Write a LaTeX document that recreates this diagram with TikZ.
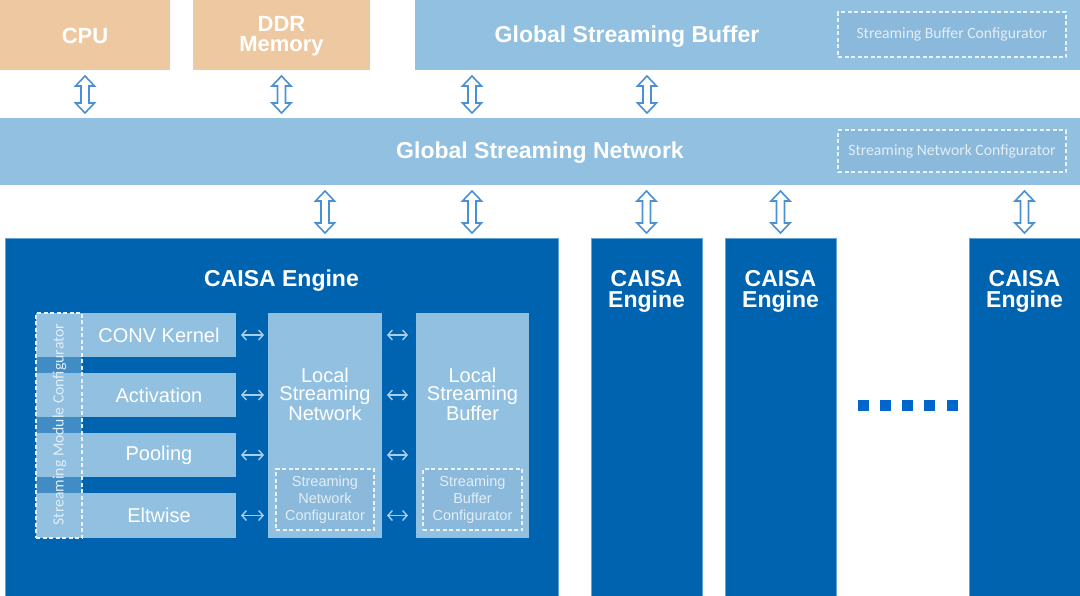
\documentclass[tikz,border=0pt]{standalone}
\usepackage{fontspec}
\setmainfont{Liberation Sans}
\newfontfamily\cfgfont{Carlito}
\usetikzlibrary{calc,arrows.meta}
\definecolor{lblue}{HTML}{92C0E0}
\definecolor{dblue}{HTML}{0063AF}
\definecolor{orng}{HTML}{EEC8A0}
\definecolor{arrblue}{HTML}{4A90D2}
\definecolor{cfgfill}{HTML}{8BB9DB}
\definecolor{smallarr}{HTML}{A9CDEB}
\definecolor{dotblue}{HTML}{0066CC}
\definecolor{cfgtext}{HTML}{E2EEF7}
\begin{document}
\begin{tikzpicture}[x=1pt,y=-1pt,
  blk/.style={inner sep=0pt, outer sep=0pt, text=white, align=center},
  toptitle/.style={text=white, font=\bfseries\fontsize{22}{20}\selectfont, align=center, inner sep=0pt},
  bigtitle/.style={text=white, font=\bfseries\fontsize{23}{21}\selectfont, align=center, inner sep=0pt},
  cfgbox/.style={blk, draw=white!80!lblue, dashed, dash pattern=on 4pt off 2.5pt, line width=1.1pt, fill=cfgfill},
  cfgtxt/.style={text=cfgtext, font=\cfgfont\fontsize{15.7}{18}\selectfont, inner sep=0pt},
  modbox/.style={blk, fill=lblue, font=\fontsize{20}{20}\selectfont},
  localtxt/.style={text=white, font=\fontsize{20}{18.5}\selectfont, align=center, inner sep=0pt},
  innertxt/.style={text=cfgtext, font=\fontsize{14.5}{17}\selectfont, align=center, inner sep=0pt},
  engbox/.style={blk, fill=dblue, draw=lblue!70!dblue, line width=0.5pt},
  smallarrow/.style={draw=smallarr, line width=1.4pt,
     {Straight Barb[length=4.5pt,width=10pt]}-{Straight Barb[length=4.5pt,width=10pt]}},
  dotsq/.style={fill=dotblue, inner sep=0pt, minimum size=11pt},
  bigarr/.style={draw=arrblue, fill=white, line width=1.6pt, line join=miter,
    to path={let \p1=(\tikztostart), \p2=(\tikztotarget) in
      (\x1,{\y1-6pt}) -- ({\x1+9.5pt},{\y1-16pt}) -- ({\x1+4pt},{\y1-16pt})
      -- ({\x1+4pt},{\y2+15pt}) -- ({\x1+9.5pt},{\y2+15pt}) -- (\x1,{\y2+5pt})
      -- ({\x1-9.5pt},{\y2+15pt}) -- ({\x1-4pt},{\y2+15pt}) -- ({\x1-4pt},{\y1-16pt})
      -- ({\x1-9.5pt},{\y1-16pt}) -- cycle}}
]
\useasboundingbox[fill=white] (0,0) rectangle (1080,595);

% top row
\node[blk, fill=orng, minimum width=170pt, minimum height=70pt] (cpu) at (85,35) {};
\node[toptitle] (cput) at (85,36) {CPU};
\node[blk, fill=orng, minimum width=177pt, minimum height=70pt] (ddr) at (281.5,35) {};
\node[toptitle] (ddrt) at (281.5,36) {DDR\\Memory};
\node[blk, fill=lblue, minimum width=665pt, minimum height=70pt] (gsb) at (747.5,35) {};
\node[bigtitle] (gsbt) at (627,36.5) {Global Streaming Buffer};
\node[cfgbox, minimum width=228pt, minimum height=45pt] (gsbcfg) at (952,34.5) {};
\node[cfgtxt] (gsbcfgt) at (952,34.5) {Streaming Buffer Configurator};

% global streaming network
\node[blk, fill=lblue, minimum width=1080pt, minimum height=67pt] (gsn) at (540,151.5) {};
\node[bigtitle] (gsnt) at (540,152.5) {Global Streaming Network};
\node[cfgbox, minimum width=228pt, minimum height=42pt] (gsncfg) at (952,151) {};
\node[cfgtxt] (gsncfgt) at (952,151) {Streaming Network Configurator};

% engines
\node[engbox, minimum width=553pt, minimum height=358pt] (eng1) at (281.5,417) {};
\node[bigtitle] (eng1t) at (281.5,280.5) {CAISA Engine};
\node[engbox, minimum width=111pt, minimum height=358pt] (eng2) at (646.5,417) {};
\node[bigtitle] (eng2t) at (646.5,291) {CAISA\\Engine};
\node[engbox, minimum width=111pt, minimum height=358pt] (eng3) at (780.5,417) {};
\node[bigtitle] (eng3t) at (780.5,291) {CAISA\\Engine};
\node[engbox, minimum width=111pt, minimum height=358pt] (eng4) at (1024.5,417) {};
\node[bigtitle] (eng4t) at (1024.5,291) {CAISA\\Engine};

% dots
\foreach \i in {0,...,4}
  \node[dotsq] (dot\i) at ({863+22.25*\i},405.5) {};

% column coordinates
\coordinate (cA) at (472,0);
\coordinate (cB) at (647,0);
\coordinate (cC) at (325,0);

% big arrows row 1
\draw[bigarr] (cpu.south) to (gsn.north -| cpu.south);
\draw[bigarr] (ddr.south) to (gsn.north -| ddr.south);
\draw[bigarr] (gsb.south -| cA) to (gsn.north -| cA);
\draw[bigarr] (gsb.south -| cB) to (gsn.north -| cB);
% big arrows row 2
\draw[bigarr] (gsn.south -| cC) to (eng1.north -| cC);
\draw[bigarr] (gsn.south -| cA) to (eng1.north -| cA);
\draw[bigarr] (gsn.south -| eng2.north) to (eng2.north);
\draw[bigarr] (gsn.south -| eng3.north) to (eng3.north);
\draw[bigarr] (gsn.south -| eng4.north) to (eng4.north);

% modules
\node[modbox, minimum width=200pt, minimum height=44pt] (conv) at (136,335) {\hspace*{46pt}CONV Kernel};
\node[modbox, minimum width=200pt, minimum height=44pt] (act) at (136,395) {\hspace*{46pt}Activation};
\node[modbox, minimum width=200pt, minimum height=44pt] (pool) at (136,455) {\hspace*{46pt}\raisebox{-1.5pt}{Pooling}};
\node[modbox, minimum width=200pt, minimum height=45pt] (elt) at (136,515.5) {\hspace*{46pt}Eltwise};
\node[blk, draw=white!80!lblue, dashed, dash pattern=on 4pt off 2.5pt, line width=1.1pt,
      fill=lblue, fill opacity=0.45, minimum width=46pt, minimum height=225pt] (smc) at (59,425.5) {};
\node[cfgtxt, rotate=90] (smct) at (59.5,424.5) {Streaming Module Configurator};

% local streaming network / buffer
\node[blk, fill=lblue, minimum width=114pt, minimum height=225pt] (lsn) at (325,425.5) {};
\node[localtxt] (lsnt) at (325,394) {Local\\Streaming\\Network};
\node[cfgbox, minimum width=98pt, minimum height=61pt] (lsncfg) at (325,499.5) {};
\node[innertxt] (lsncfgt) at (325,499.5) {Streaming\\Network\\Configurator};
\node[blk, fill=lblue, minimum width=113pt, minimum height=225pt] (lsb) at (472.5,425.5) {};
\node[localtxt] (lsbt) at (472.5,394) {Local\\Streaming\\Buffer};
\node[cfgbox, minimum width=99pt, minimum height=61pt] (lsbcfg) at (472.5,499.5) {};
\node[innertxt] (lsbcfgt) at (472.5,499.5) {Streaming\\Buffer\\Configurator};

% small arrows
\foreach \m in {conv,act,pool,elt}{
  \draw[smallarrow, shorten <=5pt, shorten >=4pt] (\m.east) -- (lsn.west |- \m.east);
  \draw[smallarrow, shorten <=5pt, shorten >=8pt] (lsn.east |- \m.east) -- (lsb.west |- \m.east);
}
\end{tikzpicture}
\end{document}
